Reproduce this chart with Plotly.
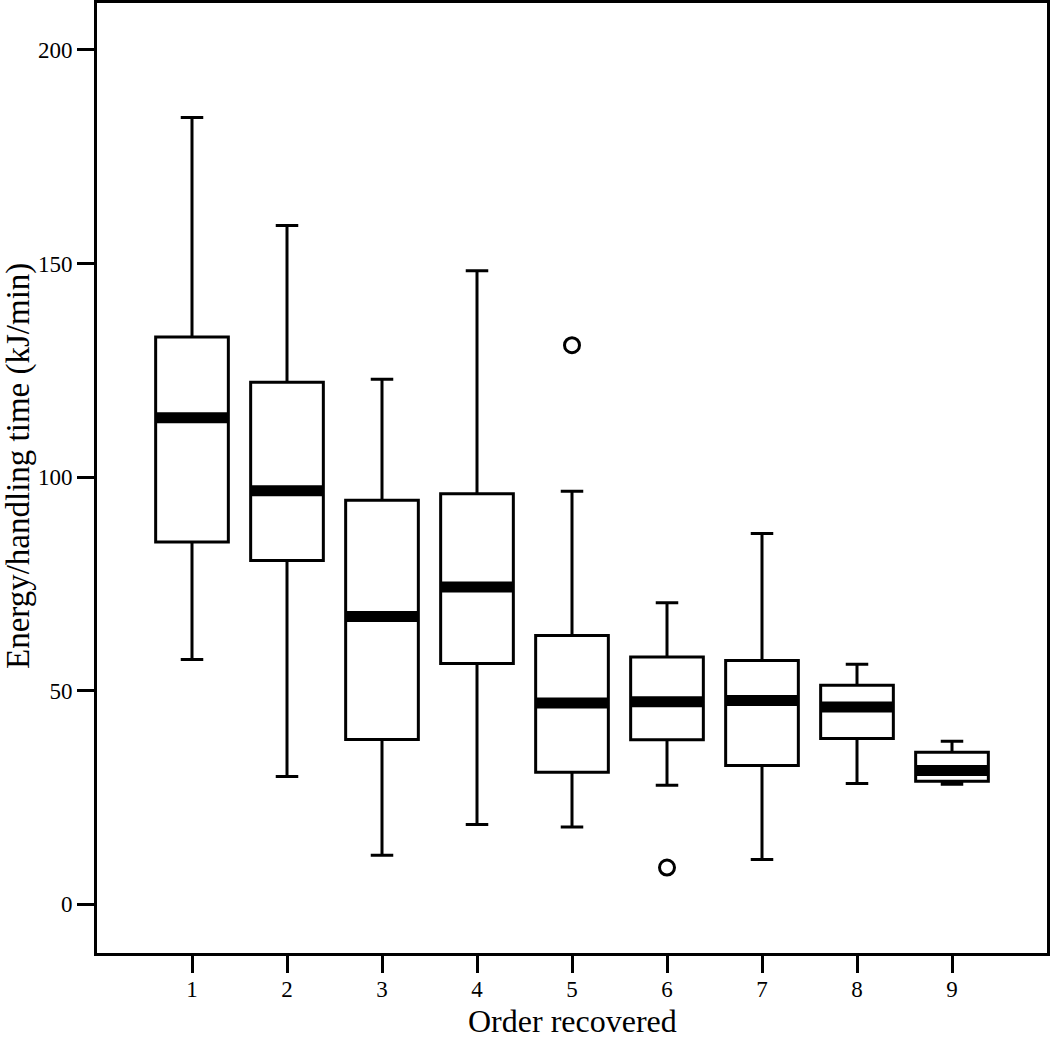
import plotly.graph_objects as go

order = [1, 2, 3, 4, 5, 6, 7, 8, 9]
lower_whisker = [57.3, 29.9, 11.5, 18.7, 18.1, 27.9, 10.5, 28.3, 28.1]
q1 = [84.8, 80.5, 38.6, 56.4, 30.9, 38.5, 32.5, 38.8, 28.8]
median = [113.9, 96.8, 67.4, 74.3, 47.1, 47.4, 47.7, 46.2, 31.3]
q3 = [132.8, 122.2, 94.6, 96.1, 62.9, 57.9, 57.1, 51.3, 35.6]
upper_whisker = [184.2, 158.9, 122.9, 148.3, 96.7, 70.6, 86.8, 56.2, 38.2]
outlier_x = [5, 6]
outlier_y = [130.9, 8.6]
x_title = "Order recovered"
y_title = "Energy/handling time (kJ/min)"

FONT = "Liberation Serif, Times New Roman, serif"

fig = go.Figure()
fig.add_trace(go.Box(
    x=order, q1=q1, median=median, q3=q3,
    lowerfence=lower_whisker, upperfence=upper_whisker,
    width=0.765, whiskerwidth=0.31,
    fillcolor="white", line=dict(color="black", width=3),
    boxpoints=False, showlegend=False, hoverinfo="skip",
))
# thick median bars (line-ew length = 1.4 * size)
fig.add_trace(go.Scatter(
    x=order, y=median, mode="markers", showlegend=False, hoverinfo="skip",
    marker=dict(symbol="line-ew", size=51, color="black",
                line=dict(color="black", width=11)),
))
# outliers
fig.add_trace(go.Scatter(
    x=outlier_x, y=outlier_y, mode="markers", showlegend=False, hoverinfo="skip",
    marker=dict(symbol="circle-open", size=15, color="black",
                line=dict(color="black", width=3)),
))

axis_common = dict(
    showline=True, mirror=True, linecolor="black", linewidth=3,
    ticks="outside", ticklen=17, tickwidth=3, tickcolor="black",
    showgrid=False, zeroline=False,
    tickfont=dict(family=FONT, size=23, color="black"),
)
fig.update_xaxes(range=[0, 10], tickmode="array", tickvals=order,
                 ticktext=[str(v) for v in order], ticklabelstandoff=-4,
                 **axis_common)
fig.update_yaxes(range=[-11.4, 211], tickmode="array",
                 tickvals=[0, 50, 100, 150, 200], **axis_common)

fig.add_annotation(text=x_title, xref="paper", yref="paper", x=0.5, y=0,
                   xanchor="center", yanchor="middle", yshift=-68, showarrow=False,
                   borderpad=0,
                   font=dict(family=FONT, size=32, color="black"))
fig.add_annotation(text=y_title, xref="paper", yref="paper", x=0, y=0.5,
                   xanchor="center", yanchor="middle", xshift=-79, yshift=12,
                   textangle=-90, showarrow=False, borderpad=0,
                   font=dict(family=FONT, size=33, color="black"))

fig.update_layout(
    width=1050, height=1039,
    margin=dict(l=97, r=3, t=3, b=86, autoexpand=False),
    plot_bgcolor="white", paper_bgcolor="white",
    font=dict(family=FONT, color="black"),
)
fig.write_html(
    "out.html",
    config={"displayModeBar": False},
    post_script="document.body.style.margin='0';document.body.style.overflow='hidden';",
)
